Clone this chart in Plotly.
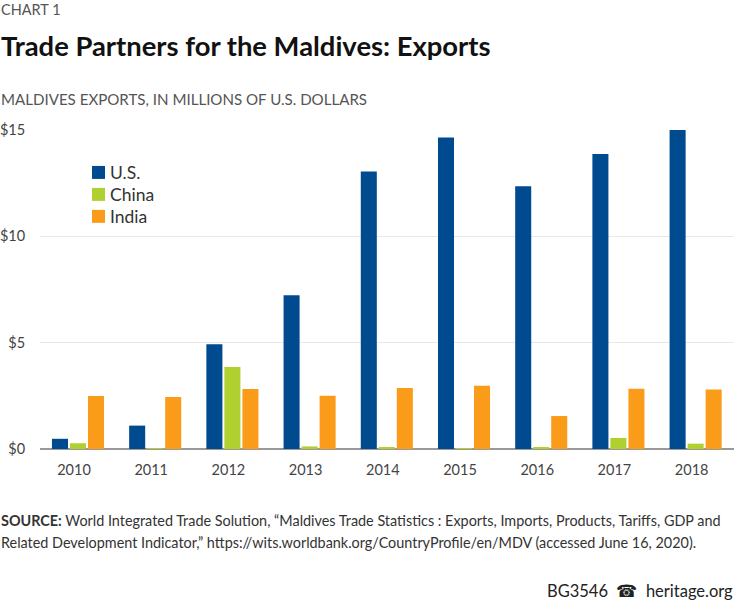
import plotly.graph_objects as go

years = ["2010", "2011", "2012", "2013", "2014", "2015", "2016", "2017", "2018"]
us = [0.48, 1.10, 4.93, 7.23, 13.05, 14.65, 12.35, 13.87, 15.0]
china = [0.27, 0.03, 3.85, 0.12, 0.05, 0.02, 0.08, 0.52, 0.25]
india = [2.49, 2.44, 2.82, 2.50, 2.87, 2.98, 1.55, 2.83, 2.80]
y_ticks = [0, 5, 10, 15]
y_labels = ["$0", "$5", "$10", "$15"]
series = [("U.S.", us, "#004a8f"), ("China", china, "#afd02f"), ("India", india, "#fb9b1a")]

FONT = "Lato"
W, H = 734, 602
L, T, B = 40, 129.5, 153
PW, PH = W - L, H - T - B

fig = go.Figure()
for name, values, color in series:
    fig.add_trace(go.Bar(x=years, y=values, name=name, marker_color=color,
                         marker_line=dict(width=0), showlegend=False))


def px_x(x):
    return (x - L) / PW


def px_y(y):
    return (H - B - y) / PH


def add_text(x, y, text, size, color="#444", anchor="left"):
    # x, y given in page pixels, paper coords are relative to the plot area
    fig.add_annotation(xref="paper", yref="paper", x=px_x(x), y=px_y(y), text=text,
                       showarrow=False, xanchor=anchor, yanchor="middle", borderpad=0, borderwidth=0,
                       font=dict(family=FONT, size=size, color=color))


fig.update_layout(
    width=W, height=H, autosize=False,
    paper_bgcolor="white", plot_bgcolor="white",
    margin=dict(l=L, r=0, t=T, b=B, pad=0, autoexpand=False),
    font=dict(family=FONT, size=14.5, color="#444"),
    barmode="group", bargap=0.30, bargroupgap=0.11,
)
fig.update_xaxes(type="category", range=[-0.492, 8.497], showgrid=False, tickfont=dict(size=14.5),
                 showline=False, ticks="outside", ticklen=8, tickcolor="rgba(0,0,0,0)", ticklabelshift=-4)
fig.update_yaxes(range=[0, 15], tickvals=y_ticks, ticktext=y_labels, showgrid=True, gridcolor="#e8e8e8",
                 zeroline=True, zerolinecolor="#999", zerolinewidth=1.5, tickfont=dict(size=14.5),
                 ticks="outside", ticklen=11, tickcolor="rgba(0,0,0,0)")

# legend keys drawn by hand, the built-in one can't get this tight
for i, (name, values, color) in enumerate(series):
    row = 172 + 22 * i
    fig.add_shape(type="rect", xref="paper", yref="paper", x0=px_x(92), x1=px_x(105),
                  y0=px_y(row - 6.5), y1=px_y(row + 6.5), fillcolor=color, line_width=0)
    add_text(110, row, name, 17.5, "#333")

add_text(1, 9, "CHART 1", 14.5, "#555")
add_text(1, 45, "<b>Trade Partners for the Maldives: Exports</b>", 27.4, "#111")
add_text(1, 98, "MALDIVES EXPORTS, IN MILLIONS OF U.S. DOLLARS", 15.1, "#555")
add_text(1, 521, "<b>SOURCE:</b> World Integrated Trade Solution, “Maldives Trade Statistics : Exports, Imports, Products, Tariffs, GDP and", 14.4, "#333")
add_text(1, 543, "Related Development Indicator,” https://wits.worldbank.org/CountryProfile/en/MDV (accessed June 16, 2020).", 14.4, "#333")
add_text(733, 591, "BG3546  ☎  heritage.org", 16.5, "#222", anchor="right")

fig.write_html("out.html", config=dict(displayModeBar=False), post_script="document.body.style.margin='0';")
